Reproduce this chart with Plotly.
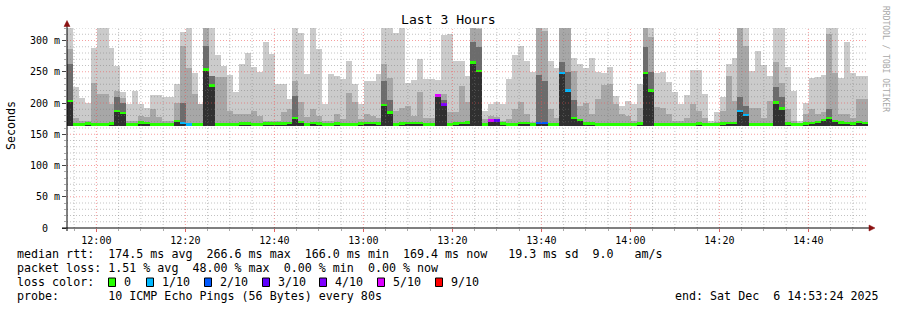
import plotly.graph_objects as go
from datetime import datetime, timedelta

# ---------------- data ----------------
start = datetime(2025, 12, 6, 11, 53, 24)
end = datetime(2025, 12, 6, 14, 53, 24)
step_s = 80
smoke_floor = 164  # lowest ping (ms)

smoke_max = [320, 226, 208, 200, 288, 320, 320, 288, 259, 217,
             199, 219, 199, 192, 213, 213, 210, 210, 231, 314,
             320, 248, 199, 320, 320, 277, 259, 245, 217, 263,
             280, 258, 249, 298, 279, 230, 230, 206, 320, 312,
             246, 320, 286, 198, 246, 243, 238, 267, 230, 198,
             236, 236, 246, 320, 320, 312, 320, 232, 237, 270,
             239, 239, 237, 309, 310, 267, 268, 244, 320, 320,
             188, 199, 202, 198, 239, 277, 291, 268, 249, 320,
             320, 268, 256, 320, 320, 272, 262, 256, 272, 249,
             248, 258, 212, 195, 203, 199, 230, 320, 320, 248,
             249, 234, 217, 198, 213, 253, 253, 214, 172, 185,
             209, 262, 272, 320, 320, 251, 284, 261, 244, 320,
             320, 258, 219, 172, 200, 240, 242, 245, 320, 320,
             240, 298, 248, 244, 244]

smoke_mid = [286, 176, 172, 172, 232, 214, 215, 199, 219, 208,
             172, 172, 180, 178, 190, 178, 172, 172, 200, 291,
             256, 214, 199, 320, 244, 241, 241, 188, 182, 182,
             182, 188, 180, 172, 172, 172, 185, 190, 236, 201,
             178, 190, 180, 172, 172, 182, 175, 216, 201, 175,
             182, 180, 176, 262, 240, 188, 192, 195, 180, 217,
             176, 176, 212, 215, 186, 186, 228, 202, 320, 318,
             175, 180, 178, 172, 174, 190, 202, 183, 170, 320,
             315, 190, 176, 320, 320, 251, 195, 200, 182, 206,
             229, 230, 198, 182, 180, 172, 192, 320, 305, 193,
             192, 182, 172, 172, 176, 198, 187, 176, 168, 170,
             187, 243, 203, 320, 291, 192, 192, 176, 203, 265,
             232, 190, 172, 168, 182, 190, 182, 185, 310, 248,
             182, 182, 176, 206, 206]

# dense inner smoke top (0 = none)
smoke_inner = [262, 0, 0, 0, 0, 0, 0, 0, 210, 200,
               0, 0, 0, 0, 0, 0, 0, 0, 0, 200,
               0, 0, 0, 292, 244, 0, 0, 0, 0, 0,
               0, 0, 0, 0, 0, 0, 0, 0, 212, 0,
               0, 0, 0, 0, 0, 0, 0, 0, 0, 0,
               0, 0, 0, 236, 205, 0, 0, 0, 0, 0,
               0, 0, 0, 205, 0, 0, 0, 0, 297, 290,
               0, 0, 0, 0, 0, 0, 0, 0, 0, 245,
               236, 0, 0, 265, 250, 205, 0, 0, 0, 0,
               0, 0, 0, 0, 0, 0, 0, 290, 250, 0,
               0, 0, 0, 0, 0, 0, 0, 0, 0, 0,
               0, 0, 0, 210, 195, 0, 0, 0, 0, 225,
               210, 0, 0, 0, 0, 0, 0, 0, 190, 0,
               0, 0, 0, 0, 0]

median = [203, 166, 166, 167, 166, 166, 166, 167, 187, 184,
          166, 166, 169, 168, 166, 166, 166, 166, 171, 168,
          166, 166, 166, 254, 228, 166, 166, 166, 166, 167,
          167, 166, 166, 167, 167, 167, 167, 168, 176, 170,
          166, 168, 167, 166, 166, 167, 166, 166, 166, 167,
          168, 168, 167, 197, 185, 166, 167, 168, 168, 168,
          166, 166, 212, 198, 166, 167, 168, 169, 265, 251,
          166, 172, 172, 167, 166, 166, 168, 168, 166, 168,
          168, 166, 166, 248, 220, 176, 173, 167, 167, 166,
          166, 166, 166, 166, 166, 166, 167, 248, 220, 166,
          166, 166, 166, 166, 166, 166, 167, 166, 166, 166,
          167, 168, 168, 187, 181, 166, 166, 166, 166, 201,
          191, 167, 166, 166, 167, 168, 170, 173, 176, 171,
          169, 168, 167, 170, 168]

loss = [0] * 135
for k, v in {19: 1, 20: 1, 62: 5, 63: 4, 71: 5, 72: 3, 79: 2, 80: 2,
             83: 1, 84: 1, 113: 1, 114: 1}.items():
    loss[k] = v

loss_levels = [0, 1, 2, 3, 4, 5, 9]
loss_labels = ["0", "1/10", "2/10", "3/10", "4/10", "5/10", "9/10"]
loss_colors = ["#26ff00", "#00b8ff", "#0059ff", "#5e00ff", "#7e00ff", "#dd00ff", "#ff0000"]

y_ticks = [0, 50, 100, 150, 200, 250, 300]
y_ticktext = ["0\u00a0\u00a0", "50 m", "100 m", "150 m", "200 m", "250 m", "300 m"]
x_ticktext = ["12:00", "12:20", "12:40", "13:00", "13:20", "13:40", "14:00", "14:20", "14:40"]

stats_line1 = "median rtt:  174.5 ms avg  266.6 ms max  166.0 ms min  169.4 ms now   19.3 ms sd  9.0   am/s"
stats_line2 = "packet loss: 1.51 % avg  48.00 % max  0.00 % min  0.00 % now"
probe_line = "probe:       10 ICMP Echo Pings (56 Bytes) every 80s"
end_line = "end: Sat Dec  6 14:53:24 2025"

# ---------------- layout geometry ----------------
W, H = 897, 310
PX0, PX1, PYT, PYB = 67, 868, 28, 228
YMAX = 320
MONO = "DejaVu Sans Mono"


def px(x):
    return (x - PX0) / (PX1 - PX0)


def py(y):
    return (PYB - y) / (PYB - PYT)


def nb(s):
    return s.replace(" ", "\u00a0")


n = len(median)
centers = [start + timedelta(seconds=step_s * (k + 0.5)) for k in range(n)]
width_ms = step_s * 1000
lcol = {lv: c for lv, c in zip(loss_levels, loss_colors)}

fig = go.Figure()


def add_layer(tops, color):
    fig.add_trace(go.Bar(
        x=centers, base=[smoke_floor] * n,
        y=[max(t - smoke_floor, 0) for t in tops],
        width=[width_ms] * n, marker=dict(color=color, line=dict(width=0)),
        hoverinfo="skip", showlegend=False))


add_layer(smoke_max, "#cbcbcb")
add_layer(smoke_mid, "#a7a7a7")
add_layer([max(i, m) if i else smoke_floor for i, m in zip(smoke_inner, median)], "#6c6c6c")
add_layer(median, "#303030")

# median marker coloured by loss
fig.add_trace(go.Bar(
    x=centers, base=[m - 2 for m in median], y=[4] * n,
    width=[width_ms] * n,
    marker=dict(color=[lcol[l] for l in loss], line=dict(width=0)),
    hoverinfo="skip", showlegend=False))

shapes = []
# vertical grid every 5 minutes
t = datetime(2025, 12, 6, 11, 55)
while t < end:
    major = (t.minute % 20 == 0)
    shapes.append(dict(type="line", xref="x", yref="paper", x0=t, x1=t, y0=0, y1=1,
                       layer="above",
                       line=dict(color="rgba(240,80,80,0.55)" if major else "rgba(120,120,120,0.45)",
                                 width=1, dash="1px,2px")))
    t += timedelta(minutes=5)
# horizontal grid every 10 ms
for v in range(10, YMAX + 1, 10):
    major = (v % 50 == 0)
    shapes.append(dict(type="line", xref="paper", yref="y", x0=0, x1=1, y0=v, y1=v,
                       layer="above",
                       line=dict(color="rgba(240,80,80,0.55)" if major else "rgba(120,120,120,0.45)",
                                 width=1, dash="1px,2px")))
# axis lines
shapes.append(dict(type="line", xref="paper", yref="paper", x0=px(62), x1=px(870),
                   y0=0, y1=0, layer="above", line=dict(color="black", width=1)))
shapes.append(dict(type="line", xref="paper", yref="paper", x0=0, x1=0,
                   y0=py(231), y1=py(25), layer="above", line=dict(color="black", width=1)))
# arrows
shapes.append(dict(type="path", xref="paper", yref="paper", layer="above",
                   path=f"M {px(869)} {py(225)} L {px(875)} {py(228)} L {px(869)} {py(231)} Z",
                   fillcolor="#8b1010", line=dict(color="#8b1010", width=0.5)))
shapes.append(dict(type="path", xref="paper", yref="paper", layer="above",
                   path=f"M {px(64)} {py(26.5)} L {px(67)} {py(20.5)} L {px(70)} {py(26.5)} Z",
                   fillcolor="#8b1010", line=dict(color="#8b1010", width=0.5)))

annotations = []


def txt(s, x, y, size, anchor="left", color="black", angle=0):
    annotations.append(dict(text=nb(s), x=px(x), y=py(y), xref="paper", yref="paper",
                            xanchor=anchor, yanchor="middle", showarrow=False,
                            textangle=angle, borderpad=0,
                            font=dict(family=MONO, size=size, color=color)))


txt("Last 3 Hours", 448, 19, 13.1, anchor="center")
txt("Seconds", 11, 126, 11.66, anchor="center", angle=-90)
txt("RRDTOOL / TOBI OETIKER", 886, 59, 8, anchor="center", color="#a8a8a8", angle=90)
txt(stats_line1, 16, 254, 11.66)
txt(stats_line2, 16, 268, 11.66)
txt("loss color:", 16, 282, 11.66)
txt(probe_line, 16, 296, 11.66)
txt(end_line, 880, 296, 11.66, anchor="right")

box_x = [108, 146, 204, 262, 319, 377, 435]
for bx, lab, col in zip(box_x, loss_labels, loss_colors):
    shapes.append(dict(type="rect", xref="paper", yref="paper", layer="above",
                       x0=px(bx + 0.5), x1=px(bx + 7.5), y0=py(286.5), y1=py(278),
                       fillcolor=col, line=dict(color="black", width=1)))
    txt(lab, bx + 15, 282, 11.66)

x_tickvals = [datetime(2025, 12, 6, int(s[:2]), int(s[3:])) for s in x_ticktext]
minor_x = []
t = datetime(2025, 12, 6, 11, 55)
while t < end:
    if t.minute % 20:
        minor_x.append(t)
    t += timedelta(minutes=5)

fig.update_layout(
    width=W, height=H,
    margin=dict(l=PX0, r=W - PX1, t=PYT, b=H - PYB, pad=0),
    paper_bgcolor="white", plot_bgcolor="white",
    barmode="overlay", bargap=0, showlegend=False,
    shapes=shapes, annotations=annotations,
    xaxis=dict(type="date", range=[start, end], tickvals=x_tickvals, ticktext=x_ticktext,
               showgrid=False, zeroline=False, showline=False,
               ticks="outside", ticklen=3, tickcolor="#e06060", tickwidth=1,
               minor=dict(tickvals=minor_x, ticks="outside", ticklen=2, tickcolor="#aaaaaa",
                          showgrid=False),
               tickfont=dict(family=MONO, size=10, color="black"), fixedrange=True),
    yaxis=dict(range=[0, YMAX], tickvals=y_ticks, ticktext=y_ticktext,
               showgrid=False, zeroline=False, showline=False,
               ticks="outside", ticklen=4, tickcolor="#444444",
               minor=dict(tickvals=list(range(10, YMAX + 1, 10)), ticks="outside",
                          ticklen=2, tickcolor="#aaaaaa", showgrid=False),
               tickfont=dict(family=MONO, size=10, color="black"), fixedrange=True),
)

fig.write_html("out.html")
